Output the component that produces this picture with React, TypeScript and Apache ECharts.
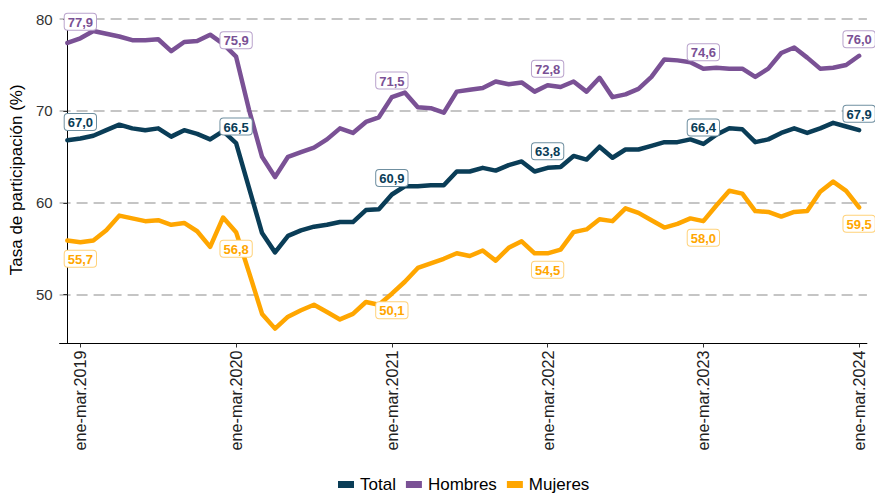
import React, { useEffect, useRef } from "react";
import * as echarts from "echarts";

const monthAbbr = ["ene", "feb", "mar", "abr", "may", "jun", "jul", "ago", "sep", "oct", "nov", "dic"];
const firstYear = 2019;
const nPoints = 62;
const categories: string[] = [];
for (let j = 0; j < nPoints; j++) {
  const e = (j + 1) % 12;
  const s = (e + 10) % 12;
  const y = firstYear + Math.floor((j + 1) / 12);
  categories.push(`${monthAbbr[s]}-${monthAbbr[e]}.${y}`);
}

const total = [66.8, 67.0, 67.3, 67.9, 68.5, 68.1, 67.9, 68.1, 67.2, 67.9, 67.5, 66.9, 67.8, 66.5, 61.6, 56.7, 54.6, 56.4, 57.0, 57.4, 57.6, 57.9, 57.9, 59.2, 59.3, 60.9, 61.8, 61.8, 61.9, 61.9, 63.4, 63.4, 63.8, 63.5, 64.1, 64.5, 63.4, 63.8, 63.9, 65.1, 64.7, 66.1, 64.9, 65.8, 65.8, 66.2, 66.6, 66.6, 66.9, 66.4, 67.4, 68.1, 68.0, 66.6, 66.9, 67.6, 68.1, 67.6, 68.1, 68.7, 68.3, 67.9];
const hombres = [77.4, 77.9, 78.7, 78.4, 78.1, 77.7, 77.7, 77.8, 76.5, 77.5, 77.6, 78.3, 77.3, 75.9, 70.1, 65.0, 62.8, 65.0, 65.5, 66.0, 66.9, 68.1, 67.6, 68.8, 69.3, 71.5, 72.0, 70.4, 70.3, 69.8, 72.1, 72.3, 72.5, 73.2, 72.9, 73.1, 72.1, 72.8, 72.6, 73.2, 72.1, 73.6, 71.5, 71.8, 72.4, 73.7, 75.6, 75.5, 75.3, 74.6, 74.7, 74.6, 74.6, 73.7, 74.6, 76.3, 76.9, 75.8, 74.6, 74.7, 75.0, 76.0];
const mujeres = [55.9, 55.7, 55.9, 57.0, 58.6, 58.3, 58.0, 58.1, 57.6, 57.8, 56.9, 55.2, 58.4, 56.8, 52.4, 47.9, 46.3, 47.6, 48.3, 48.9, 48.1, 47.3, 47.9, 49.2, 48.9, 50.1, 51.4, 52.9, 53.4, 53.9, 54.5, 54.2, 54.8, 53.7, 55.1, 55.8, 54.5, 54.5, 54.9, 56.8, 57.1, 58.2, 58.0, 59.4, 58.9, 58.1, 57.3, 57.7, 58.3, 58.0, 59.7, 61.3, 61.0, 59.1, 59.0, 58.5, 59.0, 59.1, 61.2, 62.3, 61.3, 59.5];

const labelIdx = [1, 13, 25, 37, 49, 61];
const yTicks = [50, 60, 70, 80];

const FONT = "'Liberation Sans', Arial, sans-serif";

function makeSeries(name: string, values: number[], color: string, textColor: string, border: string, pos: "top" | "bottom") {
  return {
    name,
    type: "line",
    showSymbol: true,
    showAllSymbol: true,
    symbol: "circle",
    symbolSize: 1,
    itemStyle: { color },
    lineStyle: { color, width: 4.5, join: "round", cap: "round" },
    label: { show: false },
    emphasis: { disabled: true },
    data: values.map((v, j) => {
      const item: any = { value: [j, v] };
      if (labelIdx.includes(j)) {
        item.label = {
          show: true,
          position: pos,
          distance: 8,
          formatter: (p: any) => p.value[1].toFixed(1).replace(".", ","),
          color: textColor,
          fontFamily: FONT,
          fontWeight: "bold",
          fontSize: 13,
          backgroundColor: "#ffffff",
          borderColor: border,
          borderWidth: 1,
          borderRadius: 3,
          padding: [2, 3, 1, 3],
        };
      }
      return item;
    }),
  };
}

export default function App() {
  const ref = useRef<HTMLDivElement>(null);
  useEffect(() => {
    if (!ref.current) return;
    const chart = echarts.init(ref.current, null, { renderer: "svg" });
    chart.setOption({
      animation: false,
      backgroundColor: "#ffffff",
      grid: { left: 53.3, right: 8.1, top: 16.1, bottom: 151.5, containLabel: false },
      legend: {
        data: ["Total", "Hombres", "Mujeres"],
        left: 333,
        top: 471,
        padding: 5,
        icon: "rect",
        itemWidth: 16,
        itemHeight: 7,
        itemGap: 10,
        textStyle: { fontFamily: FONT, fontSize: 17, color: "#000", padding: [0, 0, 0, 1] },
      },
      xAxis: {
        type: "value",
        min: -0.6,
        max: 61.6,
        axisLine: { show: true, lineStyle: { color: "#000", width: 1 } },
        axisTick: { show: true, length: 4, customValues: labelIdx, lineStyle: { color: "#333" } },
        axisLabel: {
          customValues: labelIdx,
          rotate: 90,
          margin: 7,
          fontFamily: FONT,
          fontSize: 16.2,
          color: "#222",
          formatter: (v: number) => categories[Math.round(v)],
        },
        splitLine: { show: false },
      },
      yAxis: {
        type: "value",
        min: 44.68,
        max: 80.32,
        name: "Tasa de participación (%)",
        nameLocation: "middle",
        nameGap: 30,
        nameTextStyle: { fontFamily: FONT, fontSize: 17, color: "#000" },
        axisLine: { show: true, lineStyle: { color: "#000", width: 1 } },
        axisTick: { show: true, length: 4, customValues: yTicks, lineStyle: { color: "#333" } },
        axisLabel: { customValues: yTicks, margin: 7, fontFamily: FONT, fontSize: 15, color: "#333" },
        splitLine: { show: true, lineStyle: { color: "#b3b3b3", width: 1.6, type: [11, 6] } },
      },
      series: [
        makeSeries("Total", total, "#0a3d57", "#0a3d57", "#6f8fa0", "top"),
        makeSeries("Hombres", hombres, "#7a5195", "#7a5195", "#b9a3cc", "top"),
        makeSeries("Mujeres", mujeres, "#ffa600", "#ffa600", "#ffd27a", "bottom"),
      ],
    });
    return () => chart.dispose();
  }, []);
  return <div ref={ref} style={{ position: "absolute", left: 0, top: 0, width: 875, height: 495 }} />;
}
